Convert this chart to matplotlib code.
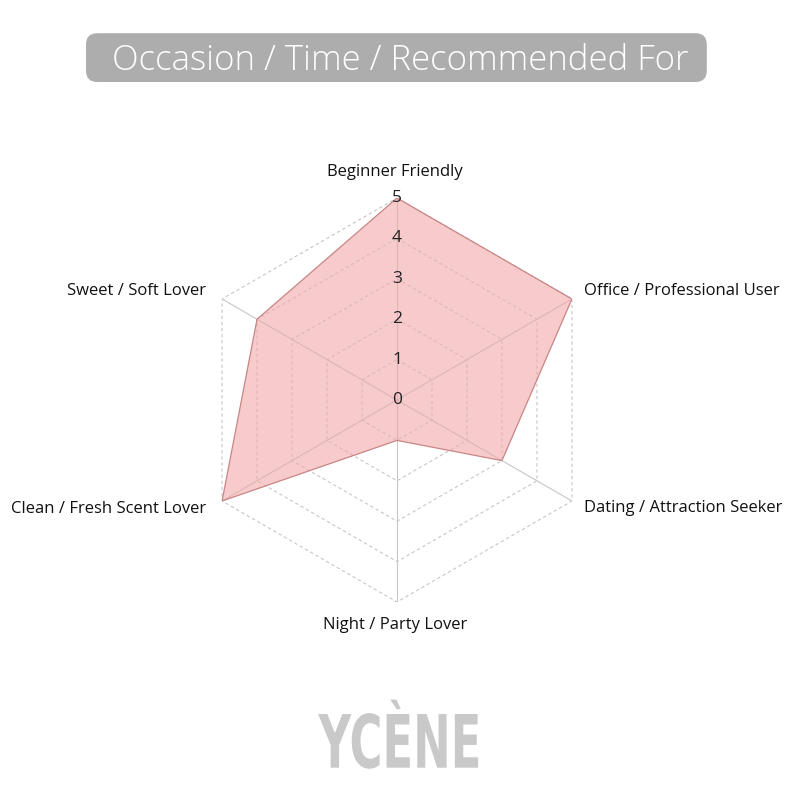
import numpy as np
import matplotlib
matplotlib.use("Agg")
import matplotlib.pyplot as plt
from matplotlib.patches import FancyBboxPatch
from matplotlib.patheffects import AbstractPathEffect
from matplotlib.transforms import Affine2D

categories = ["Beginner Friendly", "Office / Professional User", "Dating / Attraction Seeker",
              "Night / Party Lover", "Clean / Fresh Scent Lover", "Sweet / Soft Lover"]
values = [5, 5, 3, 1, 5, 4]
levels = [1, 2, 3, 4, 5]
tick_labels = ["0", "1", "2", "3", "4", "5"]
title = "Occasion / Time / Recommended For"
brand = "YCÈNE"

plt.rcParams['font.family'] = ['Open Sans', 'DejaVu Sans']


class Squeeze(AbstractPathEffect):
    """Horizontally condense text glyphs around a fixed x centre (figure fraction)."""
    def __init__(self, sx, fig, cx_frac):
        super().__init__()
        self.sx = sx
        self.fig = fig
        self.cx_frac = cx_frac

    def draw_path(self, renderer, gc, tpath, affine, rgbFace=None):
        cx = self.fig.transFigure.transform((self.cx_frac, 0))[0]
        tr = affine + Affine2D().translate(-cx, 0).scale(self.sx, 1).translate(cx, 0)
        renderer.draw_path(gc, tpath, tr, rgbFace)


fig = plt.figure(figsize=(8, 8), dpi=100)
fig.patch.set_facecolor("white")

# Title box
box = FancyBboxPatch((0.1075, 0.8975), 0.776, 0.061,
                     boxstyle="round,pad=0,rounding_size=0.014",
                     transform=fig.transFigure, facecolor="#adadad", edgecolor="none")
fig.patches.append(box)
fig.text(0.5, 0.924, title, ha="center", va="center", color="white", fontsize=25,
         fontweight="light")

ax = fig.add_axes([0.24375, 0.2475, 0.505, 0.505], projection="polar")
ax.set_theta_offset(np.pi / 2)
ax.set_theta_direction(-1)
ax.set_ylim(0, 5)
ax.grid(False)
ax.set_xticks([])
ax.set_yticks([])
ax.spines["polar"].set_visible(False)
ax.patch.set_alpha(0)

n = len(categories)
angles = np.arange(n) * 2 * np.pi / n
closed = np.concatenate([angles, angles[:1]])

# rings
for lv in levels:
    ax.plot(closed, [lv] * (n + 1), color="#c6c6c6", lw=0.8, ls=(0, (3, 2.5)), zorder=1)
# spokes
for a in angles:
    ax.plot([a, a], [0, 5], color="#c6c6c6", lw=0.8, zorder=1)

vals = np.array(values + values[:1], dtype=float)
ax.fill(closed, vals, color="#f2a9a9", alpha=0.6, zorder=2, lw=0)
ax.plot(closed, vals, color="#c98585", lw=0.9, zorder=3)

for i, t in enumerate(tick_labels):
    ax.text(0, i, t, ha="center", va="center", fontsize=12.5, color="#222222", zorder=4)

# category labels
label_pos = [
    (0.494, 0.785, "center"),
    (0.73, 0.636, "left"),
    (0.73, 0.365, "left"),
    (0.494, 0.219, "center"),
    (0.258, 0.364, "right"),
    (0.258, 0.636, "right"),
]
for (x, y, ha), c in zip(label_pos, categories):
    fig.text(x, y, c, ha=ha, va="center", fontsize=12, color="#111111")

fig.text(0.5, 0.066, brand, ha="center", va="center", color="#c9c9c9",
         fontsize=53, fontweight="bold", family=["DejaVu Sans"],
         path_effects=[Squeeze(0.61, fig, 0.5)])

fig.savefig("out.png", dpi=100, facecolor="white")
